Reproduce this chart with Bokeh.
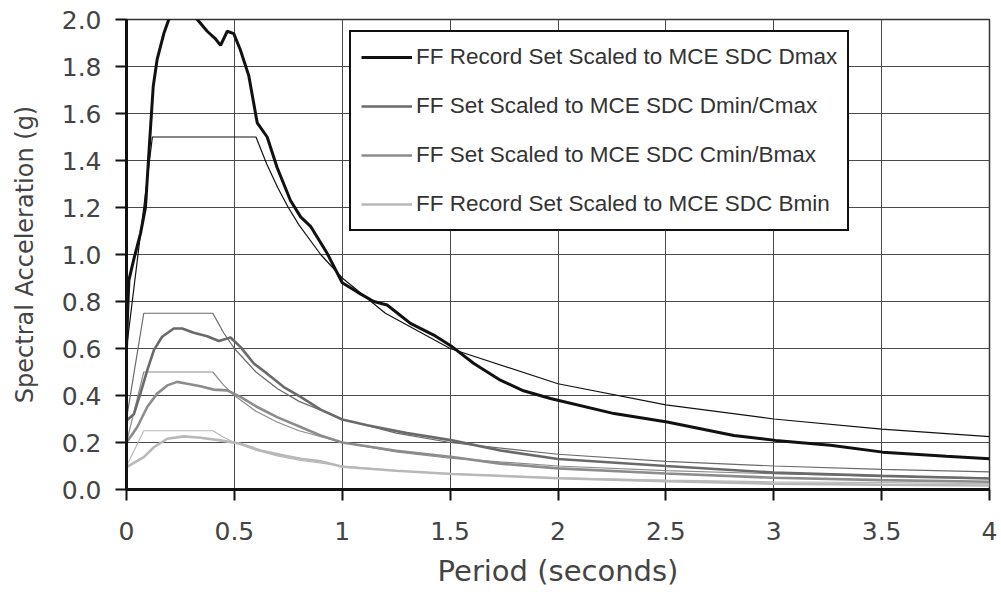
from bokeh.plotting import figure
from bokeh.models import (Range1d, FixedTicker, NumeralTickFormatter, Legend, LegendItem)
from bokeh.embed import file_html
from bokeh.resources import INLINE

# ---------------- data ----------------
x_ticks = [0, 0.5, 1, 1.5, 2, 2.5, 3, 3.5, 4]
y_ticks = [0.0, 0.2, 0.4, 0.6, 0.8, 1.0, 1.2, 1.4, 1.6, 1.8, 2.0]

legend_labels = [
    "FF Record Set Scaled to MCE SDC Dmax",
    "FF Set Scaled to MCE SDC Dmin/Cmax",
    "FF Set Scaled to MCE SDC Cmin/Bmax",
    "FF Record Set Scaled to MCE SDC Bmin",
]

# record-set mean spectra (thick lines)
dmax_T = [0, 0.005, 0.011, 0.034, 0.065, 0.088, 0.105, 0.124, 0.142, 0.173, 0.196, 0.22, 0.26,
          0.3, 0.328, 0.374, 0.41, 0.436, 0.467, 0.497, 0.528, 0.567, 0.606, 0.652, 0.698,
          0.76, 0.807, 0.853, 0.93, 1.0, 1.07, 1.146, 1.208, 1.316, 1.424, 1.51, 1.61, 1.733,
          1.84, 1.965, 2.26, 2.506, 2.815, 3.008, 3.263, 3.505, 3.8, 4.0]
dmax_Sa = [0.6, 0.75, 0.89, 0.98, 1.09, 1.2, 1.45, 1.716, 1.83, 1.94, 2.0, 2.03, 2.05,
           2.03, 2.0, 1.95, 1.92, 1.89, 1.95, 1.94, 1.87, 1.76, 1.56, 1.5, 1.37,
           1.23, 1.16, 1.12, 1.005, 0.88, 0.84, 0.8, 0.785, 0.707, 0.657, 0.607, 0.536, 0.465,
           0.42, 0.387, 0.323, 0.287, 0.23, 0.209, 0.188, 0.159, 0.141, 0.131]

dmin_T = [0, 0.034, 0.065, 0.096, 0.127, 0.165, 0.219, 0.258, 0.312, 0.374, 0.428, 0.482,
          0.528, 0.59, 0.652, 0.729, 0.807, 0.9, 1.0, 1.116, 1.3, 1.51, 1.733, 2.0, 2.5,
          3.0, 3.5, 4.0]
dmin_Sa = [0.294, 0.32, 0.41, 0.507, 0.593, 0.65, 0.685, 0.685, 0.667, 0.652, 0.632, 0.647,
           0.607, 0.536, 0.493, 0.436, 0.394, 0.34, 0.298, 0.273, 0.24, 0.209, 0.166, 0.13, 0.1,
           0.072, 0.058, 0.047]

cmin_T = [0, 0.05, 0.096, 0.142, 0.189, 0.235, 0.281, 0.343, 0.405, 0.467, 0.528, 0.606,
          0.698, 0.807, 0.9, 1.0, 1.25, 1.51, 1.733, 2.0, 2.5, 3.0, 3.5, 4.0]
cmin_Sa = [0.2, 0.266, 0.351, 0.408, 0.443, 0.458, 0.45, 0.439, 0.425, 0.422, 0.394, 0.351,
           0.308, 0.266, 0.23, 0.2, 0.165, 0.138, 0.11, 0.09, 0.068, 0.05, 0.04, 0.033]

bmin_T = [0, 0.08, 0.127, 0.189, 0.266, 0.343, 0.436, 0.528, 0.621, 0.729, 0.807, 0.9,
          1.0, 1.25, 1.51, 2.0, 2.5, 3.0, 3.5, 4.0]
bmin_Sa = [0.095, 0.138, 0.18, 0.216, 0.226, 0.22, 0.209, 0.195, 0.166, 0.145, 0.131, 0.12,
           0.097, 0.08, 0.066, 0.048, 0.035, 0.025, 0.02, 0.017]

# MCE design spectra (thin lines)
dmax_design_T = [0, 0.12, 0.6, 0.65, 0.7, 0.75, 0.8, 0.9, 1.0, 1.2, 1.5, 2.0, 2.5, 3.0, 3.5, 4.0]
dmax_design_Sa = [0.6, 1.5, 1.5, 1.385, 1.286, 1.2, 1.125, 1.0, 0.9, 0.75, 0.6, 0.45, 0.36,
                  0.3, 0.257, 0.225]
design_T = [0, 0.08, 0.4, 0.45, 0.5, 0.6, 0.7, 0.8, 1.0, 1.25, 1.5, 2.0, 2.5, 3.0, 3.5, 4.0]
dmin_design_Sa = [0.3, 0.75, 0.75, 0.667, 0.6, 0.5, 0.429, 0.375, 0.3, 0.24, 0.2, 0.15, 0.12,
                  0.1, 0.086, 0.075]
cmin_design_Sa = [0.2, 0.5, 0.5, 0.444, 0.4, 0.333, 0.286, 0.25, 0.2, 0.16, 0.133, 0.1, 0.08,
                  0.067, 0.057, 0.05]
bmin_design_Sa = [0.1, 0.25, 0.25, 0.222, 0.2, 0.167, 0.143, 0.125, 0.1, 0.08, 0.067, 0.05,
                  0.04, 0.033, 0.029, 0.025]

colors = ["#111111", "#6a6a6a", "#8c8c8c", "#b8b8b8"]

# ---------------- figure ----------------
p = figure(width=1001, height=595, output_backend="svg", toolbar_location=None,
           x_range=Range1d(0, 4), y_range=Range1d(0, 2.0),
           min_border_left=126, min_border_right=12, min_border_top=19, min_border_bottom=106)
p.background_fill_color = "white"
p.border_fill_color = "white"
p.outline_line_color = "#333333"
p.outline_line_width = 1.5

p.xaxis.ticker = FixedTicker(ticks=x_ticks)
p.yaxis.ticker = FixedTicker(ticks=y_ticks)
p.xaxis.formatter = NumeralTickFormatter(format="0.[0]")
p.yaxis.formatter = NumeralTickFormatter(format="0.0")
p.xgrid.ticker = FixedTicker(ticks=x_ticks)
p.ygrid.ticker = FixedTicker(ticks=y_ticks)
for g in (p.xgrid, p.ygrid):
    g.grid_line_color = "#4a4a4a"
    g.grid_line_width = 1

for ax in (p.xaxis, p.yaxis):
    ax.axis_line_width = 3
    ax.axis_line_color = "#111111"
    ax.major_tick_line_color = "#111111"
    ax.major_tick_line_width = 2
    ax.major_tick_out = 11
    ax.major_tick_in = 0
    ax.minor_tick_line_color = None
    ax.major_label_text_font = "DejaVu Sans"
    ax.major_label_text_font_size = "25px"
    ax.major_label_text_color = "#444444"
    ax.axis_label_text_font = "DejaVu Sans"
    ax.axis_label_text_font_style = "normal"
    ax.axis_label_text_color = "#444444"

p.xaxis.axis_label = "Period (seconds)"
p.yaxis.axis_label = "Spectral Acceleration (g)"
p.xaxis.axis_label_text_font_size = "29px"
p.yaxis.axis_label_text_font_size = "24px"
p.xaxis.major_label_standoff = 21
p.xaxis.axis_label_standoff = 11
p.yaxis.major_label_standoff = 14
p.yaxis.axis_label_standoff = 20

# design spectra
p.line(dmax_design_T, dmax_design_Sa, line_color=colors[0], line_width=1.2)
p.line(design_T, dmin_design_Sa, line_color=colors[1], line_width=1.2)
p.line(design_T, cmin_design_Sa, line_color=colors[2], line_width=1.2)
p.line(design_T, bmin_design_Sa, line_color=colors[3], line_width=1.2)

# record sets
r4 = p.line(bmin_T, bmin_Sa, line_color=colors[3], line_width=2.6)
r3 = p.line(cmin_T, cmin_Sa, line_color=colors[2], line_width=2.6)
r2 = p.line(dmin_T, dmin_Sa, line_color=colors[1], line_width=2.6)
r1 = p.line(dmax_T, dmax_Sa, line_color=colors[0], line_width=3)

legend = Legend(items=[LegendItem(label=legend_labels[0], renderers=[r1]),
                       LegendItem(label=legend_labels[1], renderers=[r2]),
                       LegendItem(label=legend_labels[2], renderers=[r3]),
                       LegendItem(label=legend_labels[3], renderers=[r4])],
                location=(223, 258))
legend.label_text_font = "Liberation Sans"
legend.label_text_font_size = "22.5px"
legend.label_text_color = "#333333"
legend.glyph_width = 51
legend.glyph_height = 30
legend.label_height = 30
legend.label_standoff = 4
legend.spacing = 19
legend.padding = 10
legend.margin = 0
legend.border_line_color = "#111111"
legend.border_line_width = 2
legend.border_line_alpha = 1
legend.background_fill_color = "white"
legend.background_fill_alpha = 1
p.add_layout(legend, "center")

open("out.html", "w").write(file_html(p, INLINE))
